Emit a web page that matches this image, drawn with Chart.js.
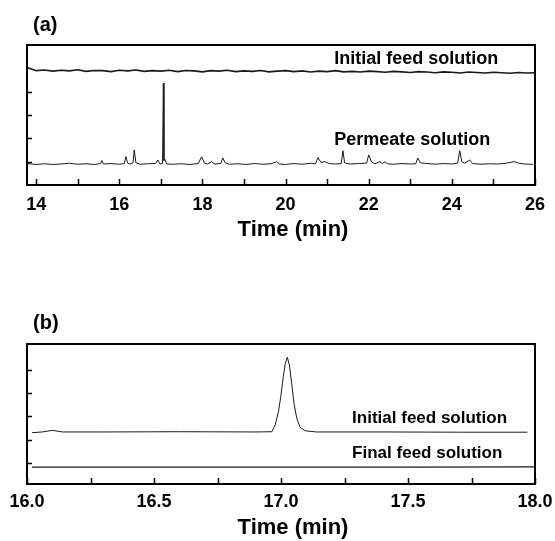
<!DOCTYPE html>
<html>
<head>
<meta charset="utf-8">
<script src="https://cdn.jsdelivr.net/npm/chart.js@4.4.0/dist/chart.umd.min.js"></script>
<style>
  body { margin: 0; background: #fff; }
  .panel { position: absolute; left: 0; }
</style>
</head>
<body>
<div class="panel" style="top:0"><canvas id="chartA" width="555" height="270"></canvas></div>
<div class="panel" style="top:270px"><canvas id="chartB" width="555" height="271"></canvas></div>
<script>
// panel (a): time (min), signal (arb.)
var feedA = [
  [13.8,4.02],[14.0,3.90],[14.2,3.93],[14.4,3.88],[14.6,3.92],[14.8,3.89],[15.0,3.94],[15.2,3.87],
  [15.4,3.91],[15.6,3.90],[15.8,3.86],[16.0,3.92],[16.2,3.89],[16.4,3.93],[16.6,3.87],[16.8,3.90],
  [17.0,3.88],[17.2,3.92],[17.4,3.86],[17.6,3.91],[17.8,3.89],[18.0,3.85],[18.2,3.90],[18.4,3.88],
  [18.6,3.92],[18.8,3.86],[19.0,3.89],[19.2,3.87],[19.4,3.91],[19.6,3.85],[19.8,3.88],[20.0,3.90],
  [20.2,3.86],[20.4,3.89],[20.6,3.84],[20.8,3.88],[21.0,3.86],[21.2,3.90],[21.4,3.85],[21.6,3.87],
  [21.8,3.84],[22.0,3.88],[22.2,3.86],[22.4,3.83],[22.6,3.87],[22.8,3.85],[23.0,3.82],[23.2,3.86],
  [23.4,3.84],[23.6,3.81],[23.8,3.85],[24.0,3.83],[24.2,3.80],[24.4,3.84],[24.6,3.82],[24.8,3.80],
  [25.0,3.83],[25.2,3.81],[25.4,3.79],[25.6,3.82],[25.8,3.80],[26.0,3.81]
];
var permeateA = [
  [13.8,-0.08],[14.0,-0.12],[14.2,-0.09],[14.4,-0.12],[14.6,-0.10],[14.8,-0.07],[15.0,-0.11],[15.2,-0.09],
  [15.4,-0.12],[15.55,-0.08],[15.58,0.05],[15.62,-0.10],[15.8,-0.08],[16.0,-0.11],[16.12,-0.08],[16.16,0.22],
  [16.2,-0.06],[16.26,-0.10],[16.33,-0.05],[16.36,0.50],[16.4,-0.05],[16.5,-0.11],[16.7,-0.09],[16.88,-0.07],
  [16.93,0.07],[16.98,-0.10],[17.04,-0.08],[17.06,3.37],[17.075,0.05],[17.1,0.10],[17.14,-0.10],[17.3,-0.11],
  [17.5,-0.09],[17.7,-0.12],[17.9,-0.08],[17.98,0.21],[18.05,-0.06],[18.12,-0.10],[18.22,0.00],[18.3,-0.10],
  [18.44,-0.08],[18.49,0.16],[18.55,-0.05],[18.65,-0.11],[18.85,-0.09],[19.05,-0.12],[19.25,-0.08],[19.45,-0.11],
  [19.65,-0.09],[19.79,0.00],[19.85,-0.10],[20.0,-0.12],[20.2,-0.08],[20.4,-0.11],[20.6,-0.07],[20.72,-0.09],
  [20.78,0.17],[20.85,-0.03],[20.95,0.00],[21.05,-0.08],[21.2,-0.10],[21.34,-0.08],[21.38,0.47],[21.42,-0.05],
  [21.55,-0.10],[21.75,-0.08],[21.95,-0.06],[22.0,0.29],[22.07,-0.02],[22.15,-0.09],[22.27,0.00],[22.33,-0.08],
  [22.39,0.00],[22.45,-0.09],[22.6,-0.11],[22.8,-0.08],[23.0,-0.10],[23.13,-0.09],[23.18,0.16],[23.24,-0.05],
  [23.4,-0.08],[23.6,-0.11],[23.8,-0.08],[24.0,-0.10],[24.14,-0.06],[24.19,0.47],[24.24,0.00],[24.3,-0.07],
  [24.43,0.07],[24.5,-0.08],[24.7,-0.11],[24.9,-0.09],[25.1,-0.10],[25.3,-0.07],[25.5,0.00],[25.6,-0.06],
  [25.75,-0.10],[25.95,-0.12]
];
var xTicksA = [14,15,16,17,18,19,20,21,22,23,24,25,26];
var yTicksA = [0,1,2,3];

// panel (b)
var initialB = [
  [16.02,1.30],[16.06,1.33],[16.1,1.40],[16.14,1.33],[16.3,1.33],[16.6,1.34],[16.9,1.33],
  [16.964,1.34],[16.977,1.63],[16.99,2.20],[16.999,2.84],[17.009,3.70],[17.017,4.27],[17.025,4.53],
  [17.033,4.20],[17.042,3.42],[17.051,2.56],[17.062,1.92],[17.075,1.53],[17.095,1.38],[17.14,1.33],
  [17.4,1.33],[17.7,1.32],[17.97,1.32]
];
var finalB = [[16.02,-0.18],[16.5,-0.18],[17.0,-0.18],[17.5,-0.18],[18.0,-0.17]];
var xTicksB = [16.0,16.25,16.5,16.75,17.0,17.25,17.5,17.75,18.0];
var yTicksB = [0,1,2,3,4];

var FONT = "'Liberation Sans', Arial, Helvetica, sans-serif";

var framePlugin = {
  id: 'frame',
  afterDraw: function(chart, args, opts) {
    var ctx = chart.ctx, a = chart.chartArea;
    var xs = chart.scales.x, ys = chart.scales.y;
    ctx.save();
    ctx.strokeStyle = '#000';
    ctx.lineWidth = 2;
    ctx.strokeRect(a.left, a.top, a.right - a.left, a.bottom - a.top);
    ctx.lineWidth = 1.5;
    ctx.beginPath();
    xs.ticks.forEach(function(t) {
      var px = Math.round(xs.getPixelForValue(t.value)) + 0.5;
      ctx.moveTo(px, a.bottom);
      ctx.lineTo(px, a.bottom - 6);
    });
    opts.yTicks.forEach(function(v) {
      var py = Math.round(ys.getPixelForValue(v)) + 0.5;
      ctx.moveTo(a.left, py);
      ctx.lineTo(a.left + 5, py);
    });
    ctx.stroke();

    ctx.fillStyle = '#000';
    ctx.textBaseline = 'middle';
    ctx.textAlign = 'left';
    ctx.font = 'bold 20px ' + FONT;
    ctx.fillText(opts.panel[0], opts.panel[1], opts.panel[2]);
    ctx.textAlign = 'center';
    ctx.font = 'bold 22px ' + FONT;
    ctx.fillText('Time (min)', opts.title[0], opts.title[1]);
    ctx.textAlign = 'left';
    opts.notes.forEach(function(n) {
      ctx.font = 'bold ' + n.size + 'px ' + FONT;
      ctx.fillText(n.text, xs.getPixelForValue(n.x), ys.getPixelForValue(n.y));
    });
    ctx.restore();
  }
};

function lineSet(data, width) {
  return { data: data, borderColor: '#1a1a1a', borderWidth: width, pointRadius: 0, tension: 0, fill: false };
}

function makeChart(id, sets, xMin, xMax, xTicks, labelFn, yMin, yMax, frameOpts, padBottom, xHeight, tickPad) {
  return new Chart(document.getElementById(id), {
    type: 'line',
    data: { datasets: sets },
    options: {
      responsive: false,
      animation: false,
      layout: { padding: { left: 27, right: 20, top: frameOpts.top, bottom: padBottom } },
      plugins: { legend: { display: false }, tooltip: { enabled: false }, frame: frameOpts },
      scales: {
        x: {
          type: 'linear', min: xMin, max: xMax,
          afterBuildTicks: function(s) { s.ticks = xTicks.map(function(v) { return { value: v }; }); },
          afterFit: function(s) { s.height = xHeight; },
          grid: { display: false },
          border: { display: false },
          ticks: {
            autoSkip: false, maxRotation: 0, padding: tickPad, color: '#000',
            font: { family: FONT, size: 18, weight: 'bold' },
            callback: labelFn
          }
        },
        y: { type: 'linear', min: yMin, max: yMax, display: false }
      }
    },
    plugins: [framePlugin]
  });
}

makeChart('chartA', [lineSet(feedA, 1.6), lineSet(permeateA, 1)], 13.78, 26, xTicksA,
  function(v) { return v % 2 === 0 ? String(v) : ''; }, -1, 5,
  { top: 45, yTicks: yTicksA, panel: ['(a)', 33, 25], title: [293, 230],
    notes: [{ text: 'Initial feed solution', x: 21.17, y: 4.42, size: 18 },
            { text: 'Permeate solution', x: 21.17, y: 0.93, size: 18 }] },
  25, 60, 1);

makeChart('chartB', [lineSet(initialB, 1), lineSet(finalB, 1.3)], 16, 18, xTicksB,
  function(v) { return Math.abs(v * 2 - Math.round(v * 2)) < 1e-9 ? v.toFixed(1) : ''; }, -0.9, 5.1,
  { top: 74, yTicks: yTicksB, panel: ['(b)', 33, 53], title: [293, 258],
    notes: [{ text: 'Initial feed solution', x: 17.28, y: 1.93, size: 17 },
            { text: 'Final feed solution', x: 17.28, y: 0.41, size: 17 }] },
  0, 57, -1);
</script>
</body>
</html>
